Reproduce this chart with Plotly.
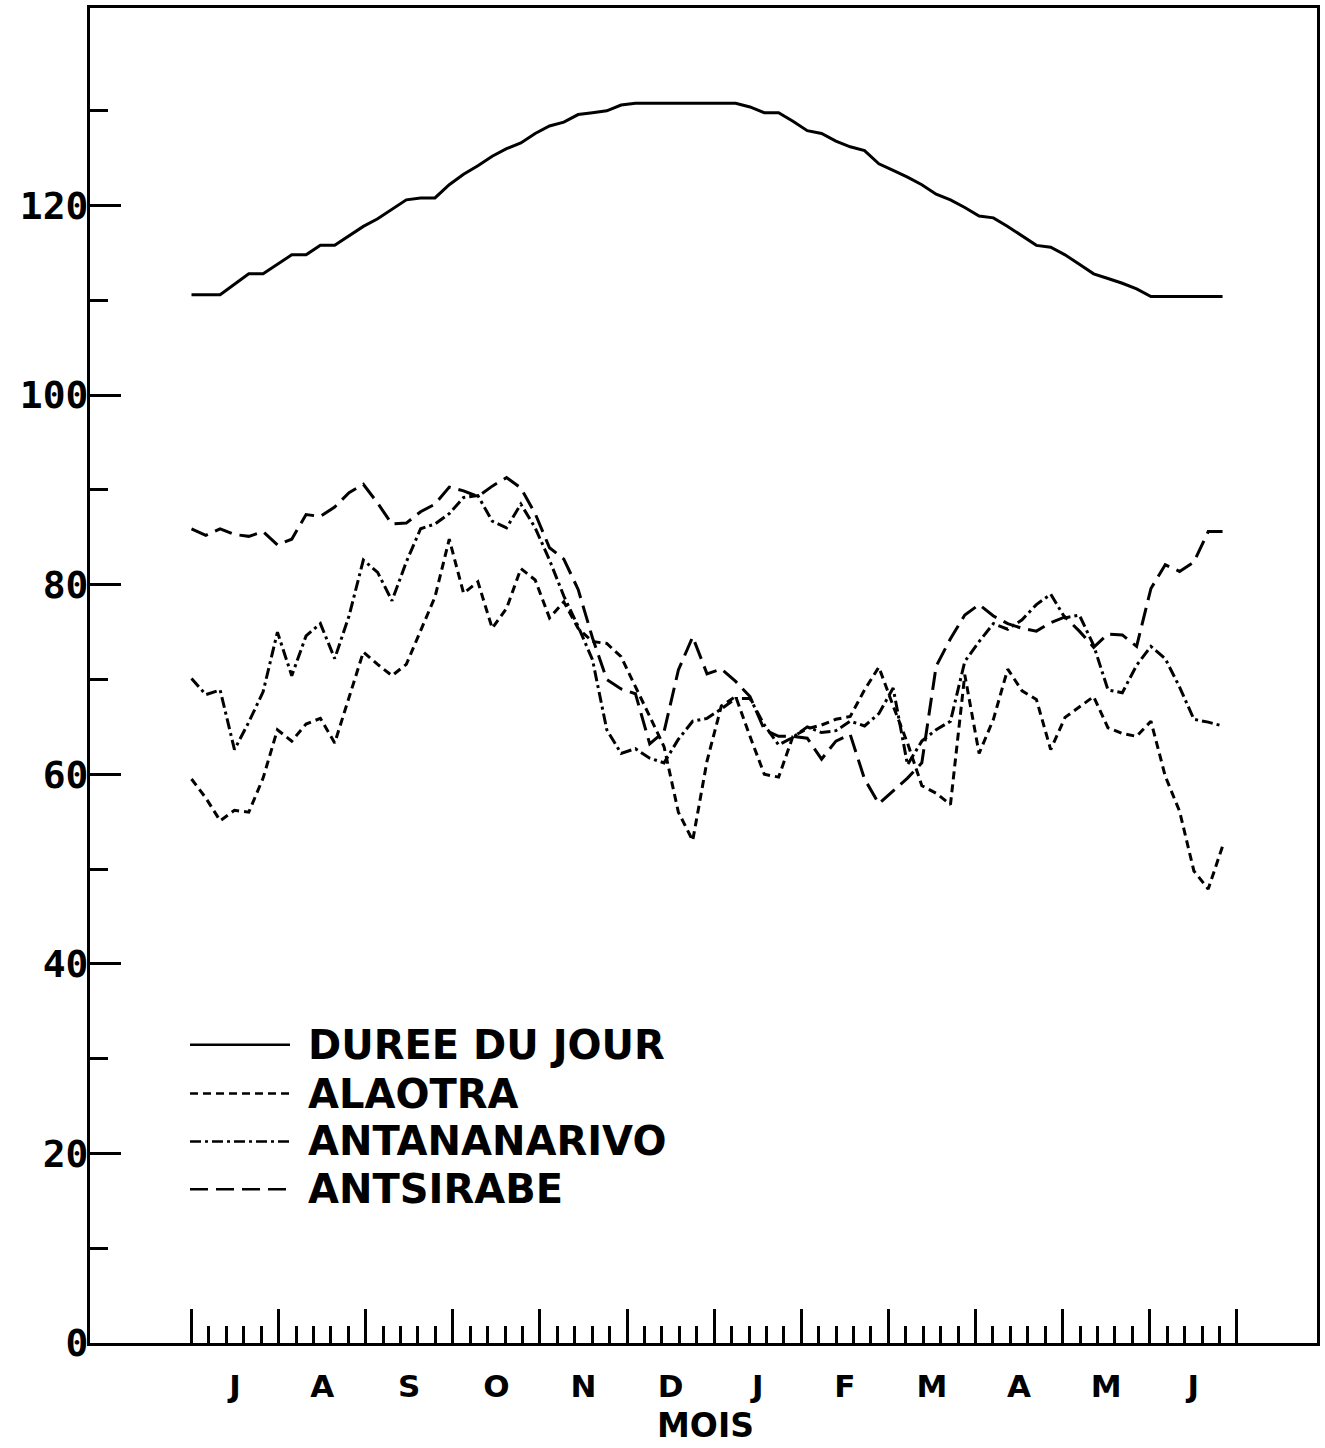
import plotly.graph_objects as go

# Pentades (5-day periods) from July to June
pentades = list(range(1, 74))
jours = [(p - 1) * 5 for p in pentades]

# Day length (tenths of hours)
duree_jour = [
    110.6, 110.6, 110.6, 111.7, 112.8, 112.8, 113.8, 114.8, 114.8, 115.8,
    115.8, 116.8, 117.8, 118.6, 119.6, 120.6, 120.8, 120.8, 122.2, 123.3,
    124.2, 125.2, 126.0, 126.6, 127.6, 128.4, 128.8, 129.6, 129.8, 130.0,
    130.6, 130.8, 130.8, 130.8, 130.8, 130.8, 130.8, 130.8, 130.8, 130.4,
    129.8, 129.8, 128.9, 127.9, 127.6, 126.8, 126.2, 125.8, 124.4, 123.7,
    123.0, 122.2, 121.2, 120.6, 119.8, 118.9, 118.7, 117.8, 116.8, 115.8,
    115.6, 114.8, 113.8, 112.8, 112.3, 111.8, 111.2, 110.4, 110.4, 110.4,
    110.4, 110.4, 110.4,
]

alaotra = [
    59.5, 57.5, 55.1, 56.2, 56.0, 59.6, 64.7, 63.5, 65.3, 65.9,
    63.3, 68.0, 72.9, 71.6, 70.4, 71.6, 75.1, 78.7, 84.8, 79.1,
    80.3, 75.4, 77.5, 81.7, 80.5, 76.5, 78.2, 75.4, 74.0, 73.8,
    72.4, 69.3, 66.1, 62.9, 56.0, 53.0, 61.4, 67.2, 68.2, 64.0,
    60.0, 59.7, 64.0, 64.8, 65.2, 65.8, 66.1, 68.9, 71.3, 67.2,
    63.3, 58.8, 58.0, 56.8, 70.5, 62.2, 65.8, 71.1, 68.8, 67.9,
    62.6, 66.0, 67.1, 68.2, 64.9, 64.3, 64.0, 65.6, 59.8, 56.1,
    49.8, 47.9, 52.4,
]

antananarivo = [
    70.1, 68.4, 68.9, 62.6, 65.5, 68.7, 75.0, 70.4, 74.6, 75.9,
    72.2, 76.7, 82.6, 81.3, 78.3, 82.4, 85.9, 86.4, 87.5, 89.2,
    89.4, 86.7, 86.0, 88.5, 86.0, 82.6, 78.8, 75.6, 72.1, 64.7,
    62.2, 62.7, 61.7, 61.2, 63.7, 65.6, 65.9, 66.9, 68.0, 68.0,
    65.2, 63.1, 63.9, 65.0, 64.4, 64.6, 65.6, 65.1, 66.4, 69.1,
    61.0, 63.5, 64.7, 65.6, 71.9, 74.0, 75.9, 75.3, 76.3, 77.9,
    79.0, 76.5, 76.8, 73.6, 68.9, 68.6, 71.5, 73.5, 72.2, 69.2,
    65.8, 65.5, 65.1,
]

antsirabe = [
    85.9, 85.2, 85.9, 85.3, 85.1, 85.6, 84.2, 84.8, 87.4, 87.2,
    88.2, 89.7, 90.6, 88.6, 86.4, 86.5, 87.7, 88.5, 90.3, 89.9,
    89.3, 90.4, 91.3, 90.2, 87.5, 83.9, 82.7, 79.5, 74.4, 70.0,
    69.0, 68.5, 63.2, 64.5, 71.0, 74.5, 70.6, 71.1, 69.8, 68.2,
    64.7, 64.0, 64.0, 63.8, 61.6, 63.5, 64.2, 59.5, 56.9, 58.3,
    59.6, 61.2, 71.4, 74.3, 76.8, 77.9, 76.7, 75.9, 75.4, 75.1,
    76.0, 76.6, 75.1, 73.4, 74.8, 74.7, 73.5, 79.6, 82.1, 81.4,
    82.4, 85.6, 85.6,
]

mois = ["J", "A", "S", "O", "N", "D", "J", "F", "M", "A", "M", "J"]
y_labels = [0, 20, 40, 60, 80, 100, 120]
y_minor = [10, 30, 50, 70, 90, 110, 130]

series = [
    ("DUREE DU JOUR", duree_jour, "solid"),
    ("ALAOTRA", alaotra, "8px,5px"),
    ("ANTANANARIVO", antananarivo, "11px,4px,3px,4px"),
    ("ANTSIRABE", antsirabe, "18px,8px"),
]

year = 365.0
month_len = year / 12
month_edges = [month_len * j for j in range(13)]
month_centres = [month_len * (j + 0.5) for j in range(12)]
fifths = [month_len * i / 5 for i in range(61) if i % 5]

W, H = 1325, 1448
L, R, T, B = 90, 8, 5, 105
plot_w, plot_h = W - L - R, H - T - B
px_per_day = 2.864
x0 = -(191.5 - L) / px_per_day
x_range = [x0, x0 + plot_w / px_per_day]
y_range = [0, plot_h / 9.5]

letter_font = dict(family="DejaVu Sans", size=40, color="black", weight="bold")

fig = go.Figure()
for i, (name, vals, dash) in enumerate(series):
    fig.add_trace(go.Scatter(
        x=jours, y=vals, mode="lines", name=name,
        line=dict(color="black", width=3, dash=dash),
        xaxis="x2" if i == 0 else "x",
        showlegend=False,
    ))

# Hand-drawn key in the lower-left corner
key_rows = [1044, 1093, 1141, 1189]
for (name, _, dash), row in zip(series, key_rows):
    yp = (H - B - row) / plot_h
    fig.add_shape(type="line", xref="paper", yref="paper",
                  x0=(190 - L) / plot_w, x1=(290 - L) / plot_w, y0=yp, y1=yp,
                  line=dict(color="black", width=2.5, dash=dash))
    fig.add_annotation(text=name, xref="paper", yref="paper",
                       x=(306 - L) / plot_w, y=yp, xanchor="left", yanchor="middle",
                       showarrow=False, font=letter_font)

fig.add_annotation(text="MOIS", xref="paper", yref="paper",
                   x=(705 - L) / plot_w, y=(H - B - 1446) / plot_h,
                   xanchor="center", yanchor="bottom", showarrow=False, borderpad=0,
                   font=dict(family="DejaVu Sans", size=33, color="black", weight="bold"))

fig.update_layout(
    width=W, height=H,
    margin=dict(l=L, r=R, t=T, b=B, pad=0),
    paper_bgcolor="white", plot_bgcolor="white",
    showlegend=False,
    xaxis=dict(
        range=x_range, showgrid=False, zeroline=False,
        showline=True, linecolor="black", linewidth=3, mirror=True,
        tickmode="array", tickvals=month_edges, showticklabels=False,
        ticks="inside", ticklen=34, tickwidth=2.5, tickcolor="black",
        minor=dict(tickmode="array", tickvals=fifths, ticks="inside",
                   ticklen=17, tickwidth=2.5, tickcolor="black", showgrid=False),
    ),
    xaxis2=dict(
        range=x_range, overlaying="x", anchor="y", side="bottom",
        showgrid=False, zeroline=False, showline=False,
        tickmode="array", tickvals=month_centres, ticktext=mois,
        ticks="", ticklabelstandoff=22,
        tickfont=dict(family="DejaVu Sans", size=31, color="black", weight="bold"),
    ),
    yaxis=dict(
        range=y_range, showgrid=False, zeroline=False,
        showline=True, linecolor="black", linewidth=3, mirror=True,
        tickmode="array", tickvals=y_labels, ticktext=[str(v) for v in y_labels],
        ticks="inside", ticklen=31, tickwidth=2.5, tickcolor="black",
        ticklabelstandoff=-9,
        tickfont=dict(family="DejaVu Sans Mono", size=38, color="black", weight="bold"),
        minor=dict(tickmode="array", tickvals=y_minor, ticks="inside",
                   ticklen=18, tickwidth=2.5, tickcolor="black", showgrid=False),
    ),
)

fig.write_html("out.html")
